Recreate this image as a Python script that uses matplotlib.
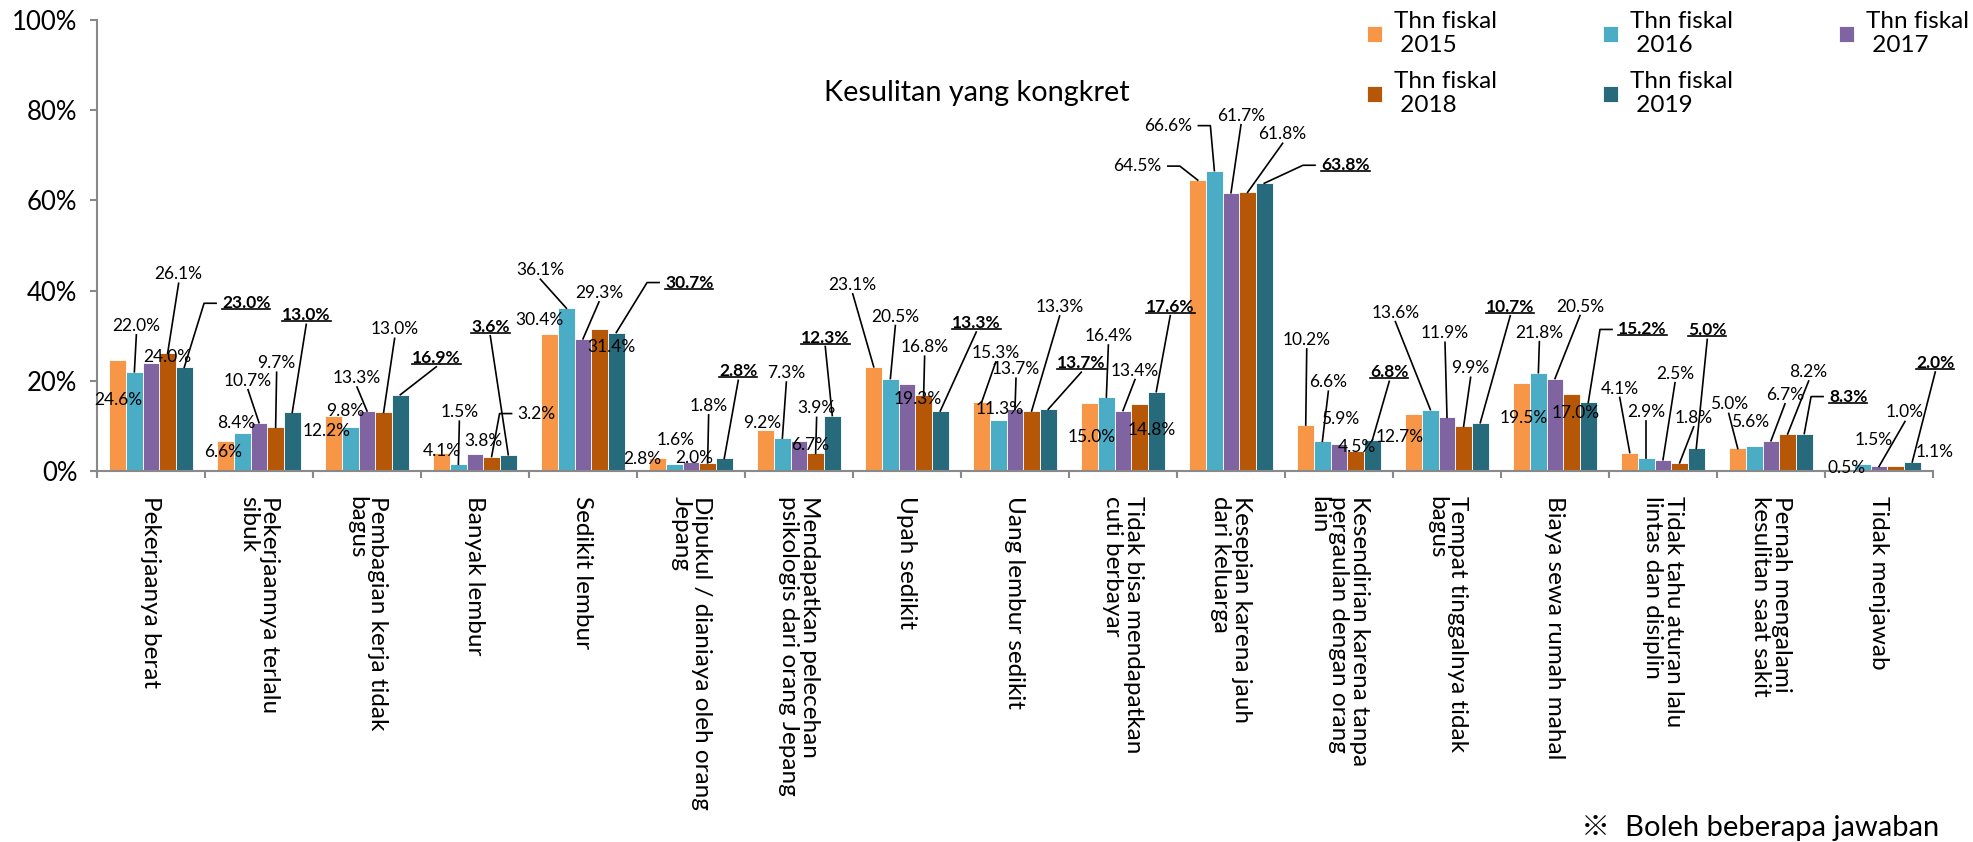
import numpy as np
import matplotlib
matplotlib.use('Agg')
import matplotlib.pyplot as plt
from matplotlib.lines import Line2D
from matplotlib.transforms import IdentityTransform

plt.rcParams['font.family'] = ['Lato', 'Noto Sans CJK JP', 'DejaVu Sans']

categories = [
    'Pekerjaanya berat',
    'Pekerjaannya terlalu\nsibuk',
    'Pembagian kerja tidak\nbagus',
    'Banyak lembur',
    'Sedikit lembur',
    'Dipukul / dianiaya oleh orang\nJepang',
    'Mendapatkan pelecehan\npsikologis dari orang Jepang',
    'Upah sedikit',
    'Uang lembur sedikit',
    'Tidak bisa mendapatkan\ncuti berbayar',
    'Kesepian karena jauh\ndari keluarga',
    'Kesendirian karena tanpa\npergaulan dengan orang\nlain',
    'Tempat tinggalnya tidak\nbagus',
    'Biaya sewa rumah mahal',
    'Tidak tahu aturan lalu\nlintas dan disiplin',
    'Pernah mengalami\nkesulitan saat sakit',
    'Tidak menjawab',
]
years = ['2015', '2016', '2017', '2018', '2019']
fy2015 = [24.6, 6.6, 12.2, 4.1, 30.4, 2.8, 9.2, 23.1, 15.3, 15.0, 64.5, 10.2, 12.7, 19.5, 4.1, 5.0, 0.5]
fy2016 = [22.0, 8.4, 9.8, 1.5, 36.1, 1.6, 7.3, 20.5, 11.3, 16.4, 66.6, 6.6, 13.6, 21.8, 2.9, 5.6, 1.5]
fy2017 = [24.0, 10.7, 13.3, 3.8, 29.3, 2.0, 6.7, 19.3, 13.7, 13.4, 61.7, 5.9, 11.9, 20.5, 2.5, 6.7, 1.0]
fy2018 = [26.1, 9.7, 13.0, 3.2, 31.4, 1.8, 3.9, 16.8, 13.3, 14.8, 61.8, 4.5, 9.9, 17.0, 1.8, 8.2, 1.1]
fy2019 = [23.0, 13.0, 16.9, 3.6, 30.7, 2.8, 12.3, 13.3, 13.7, 17.6, 63.8, 6.8, 10.7, 15.2, 5.0, 8.3, 2.0]

series = [fy2015, fy2016, fy2017, fy2018, fy2019]
colors = ['#F79646', '#4BACC6', '#8064A2', '#B65708', '#276A7C']

# label placement: (dx px, dy px from bar top, leader kind)
lab2015 = [(1, -40, None), (-3, -11, None), (-7, -15, None), (0, 2, None), (-10, 14, None),
           (-15, -1, None), (-4, 7, None), (-21, 82, 'line'), (14, 49, 'line'), (2, -34, None),
           (-60, 14, 'R'), (1, 85, 'line'), (-14, -23, None), (2, -35, None), (-10, 64, 'line'),
           (-9, 44, 'line'), (1, 1, None)]
lab2016 = [(2, 46, 'line'), (-6, 10, None), (-5, 16, None), (1, 52, 'line'), (-26, 38, 'line'),
           (1, 24, None), (4, 65, 'line'), (5, 62, 'line'), (1, 11, None), (2, 61, 'line'),
           (-46, 45, 'R'), (6, 59, 'line'), (-35, 97, 'line'), (1, 40, 'line'), (0, 46, 'line'),
           (-4, 24, None), (11, 24, None)]
lab2017 = [(16, 6, None), (-11, 42, 'line'), (-10, 33, 'line'), (8, 13, None), (16, 46, 'line'),
           (3, 4, None), (11, -4, None), (11, -15, None), (1, 40, 'line'), (12, 40, 'line'),
           (10, 77, 'line'), (1, 25, None), (-2, 84, 'line'), (25, 72, 'line'), (12, 86, 'line'),
           (14, 46, 'line'), (26, 54, 'line')]
lab2018 = [(11, 79, 'line'), (1, 64, 'line'), (11, 83, 'line'), (45, 43, 'L'), (12, -18, None),
           (1, 57, 'line'), (1, 45, 'line'), (1, 48, 'line'), (28, 104, 'line'), (12, -26, None),
           (35, 58, 'line'), (1, 4, None), (7, 58, 'line'), (4, -19, None), (14, 45, 'line'),
           (21, 62, 'line'), (39, 14, None)]
lab2019 = [(62, 64, 'L'), (14, 97, 'line'), (36, 37, 'line'), (-18, 128, 'line'), (73, 50, 'L'),
           (14, 87, 'line'), (-7, 78, 'line'), (36, 88, 'line'), (33, 46, 'line'), (14, 85, 'line'),
           (81, 18, 'L'), (17, 68, 'line'), (30, 116, 'line'), (54, 73, 'L'), (11, 118, 'line'),
           (44, 37, 'L'), (23, 99, 'line')]
layouts = [lab2015, lab2016, lab2017, lab2018, lab2019]

W, H = 1974, 842
fig = plt.figure(figsize=(W / 100, H / 100), dpi=100)
ax = fig.add_axes([97 / W, 1 - 471 / H, (1933 - 97) / W, (471 - 20) / H])

n = len(categories)
x = np.arange(n)
bw = 0.154
bars = []
for j, vals in enumerate(series):
    b = ax.bar(x + (j - 2) * bw, vals, bw, color=colors[j], edgecolor='white', linewidth=0.6,
               label='Thn fiskal\n ' + years[j])
    bars.append(b)

labels = []
for j, vals in enumerate(series):
    for i, v in enumerate(vals):
        dx, dy, kind = layouts[j][i]
        bx = i + (j - 2) * bw
        t = ax.annotate(f'{v:.1f}%', xy=(bx, v), xytext=(dx, dy), textcoords='offset pixels',
                        ha='center', va='center', fontsize=12.5,
                        fontweight='bold' if j == 4 else 'normal', annotation_clip=False, zorder=4)
        labels.append((t, bx, v, kind, j == 4))

ax.set_xlim(-0.5, n - 0.5)
ax.set_ylim(0, 100)
ax.set_yticks(range(0, 101, 20))
ax.set_yticklabels([f'{t}%' for t in range(0, 101, 20)])
ax.set_xticks(x)
ax.set_xticklabels(categories, rotation=-90, va='top', ha='center', fontsize=17.5, linespacing=0.96)
for lbl in ax.get_xticklabels():
    lbl.set_multialignment('left')
ax.set_xticks(np.arange(n + 1) - 0.5, minor=True)
ax.tick_params(axis='x', which='major', length=0, pad=18)
ax.tick_params(axis='x', which='minor', length=5, width=1.5, color='#898989')
ax.tick_params(axis='y', length=5, width=1.5, color='#898989', pad=9, labelsize=18.5)
for s in ['top', 'right']:
    ax.spines[s].set_visible(False)
for s in ['left', 'bottom']:
    ax.spines[s].set_color('#898989')
    ax.spines[s].set_linewidth(1.5)

order = [0, 3, 1, 4, 2]
ax.legend([bars[k] for k in order], ['Thn fiskal\n ' + years[k] for k in order], ncol=3,
          loc='upper left', bbox_to_anchor=(1367 / W, 1 - 11 / H), bbox_transform=fig.transFigure,
          frameon=False, fontsize=17.5, handlelength=0.62, handleheight=0.62, handletextpad=0.5,
          columnspacing=4.35, labelspacing=0.6, borderpad=0, borderaxespad=0)

fig.text(977 / W, 1 - 93 / H, 'Kesulitan yang kongkret', fontsize=20.8, ha='center', va='center')
fig.text(1939 / W, 1 - 828 / H, '※  Boleh beberapa jawaban', fontsize=21, ha='right', va='center')

# leader lines and underlines, drawn in pixel space
fig.canvas.draw()
r = fig.canvas.get_renderer()
for t, bx, v, kind, bold in labels:
    bb = t.get_window_extent(r)
    px, py = ax.transData.transform((bx, v))
    if bold:
        fig.add_artist(Line2D([bb.x0, bb.x1], [bb.y0 + 2, bb.y0 + 2], transform=IdentityTransform(),
                              color='black', lw=1.2))
    cy = (bb.y0 + bb.y1) / 2
    if kind == 'line':
        pts = [((bb.x0 + bb.x1) / 2, bb.y0 - 1), (px, py)]
    elif kind == 'L':
        sx = bb.x0 - 6
        pts = [(sx, cy), (sx - 12, cy), (px, py)]
    elif kind == 'R':
        sx = bb.x1 + 6
        pts = [(sx, cy), (sx + 12, cy), (px, py)]
    else:
        continue
    fig.add_artist(Line2D([p[0] for p in pts], [p[1] for p in pts], transform=IdentityTransform(),
                          color='black', lw=1.2))

fig.savefig('out.png', dpi=100)
